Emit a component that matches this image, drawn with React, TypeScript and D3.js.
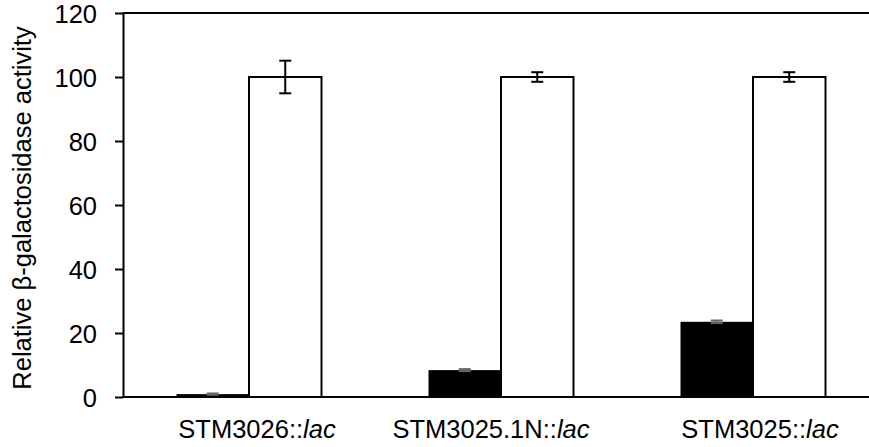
import * as d3 from "d3";
import React, { useRef, useEffect } from "react";

const strains = ["STM3026::", "STM3025.1N::", "STM3025::"];
const series = ["black", "white"];
const blackValues = [0.9, 8.4, 23.5];
const blackErrors = [0.2, 0.3, 0.4];
const whiteValues = [100, 100, 100];
const whiteErrors = [5.1, 1.5, 1.5];
const yTicks = [0, 20, 40, 60, 80, 100, 120];

// small hand nudges of the category labels, as in the original figure
const labelShift = [8, -10, 7];

function App() {
  const ref = useRef<SVGSVGElement>(null);

  useEffect(() => {
    const svg = d3.select(ref.current);
    svg.selectAll("*").remove();

    const left = 123;
    const right = 879;
    const top = 13;
    const bottom = 397;
    const font = "'Liberation Sans', Arial, sans-serif";
    const fs = 25.5;

    const x = d3.scaleBand().domain(strains).range([left, right]);
    const sub = d3.scaleBand()
      .domain(series)
      .range([0, x.bandwidth()])
      .paddingInner(0)
      .paddingOuter(0.738);
    const y = d3.scaleLinear().domain([0, 120]).range([bottom, top]);

    const rows = strains.flatMap((s, i) => [
      { strain: s, key: "black", value: blackValues[i], err: blackErrors[i] },
      { strain: s, key: "white", value: whiteValues[i], err: whiteErrors[i] },
    ]);

    // bars
    svg.append("g")
      .selectAll("rect")
      .data(rows)
      .enter()
      .append("rect")
      .attr("x", d => (x(d.strain) as number) + (sub(d.key) as number))
      .attr("y", d => y(d.value))
      .attr("width", sub.bandwidth())
      .attr("height", d => y(0) - y(d.value))
      .attr("fill", d => (d.key === "black" ? "#000" : "#fff"))
      .attr("stroke", "#000")
      .attr("stroke-width", d => (d.key === "black" ? 0 : 2));

    // error bars
    const eb = svg.append("g").attr("stroke-width", 2);
    rows.forEach(d => {
      const cx = (x(d.strain) as number) + (sub(d.key) as number) + sub.bandwidth() / 2;
      const y1 = y(d.value + d.err);
      const y2 = y(d.value - d.err);
      const stroke = d.key === "black" ? "#666" : "#000";
      eb.append("line").attr("x1", cx).attr("x2", cx).attr("y1", y1).attr("y2", y2).attr("stroke", stroke);
      eb.append("line").attr("x1", cx - 6).attr("x2", cx + 6).attr("y1", y1).attr("y2", y1).attr("stroke", stroke);
      eb.append("line").attr("x1", cx - 6).attr("x2", cx + 6).attr("y1", y2).attr("y2", y2).attr("stroke", stroke);
    });

    // plot border (top/right)
    svg.append("path")
      .attr("d", `M${left},${top}H${right}V${bottom}`)
      .attr("fill", "none")
      .attr("stroke", "#000")
      .attr("stroke-width", 2);

    // x axis line
    svg.append("line")
      .attr("x1", left).attr("x2", right)
      .attr("y1", bottom).attr("y2", bottom)
      .attr("stroke", "#000").attr("stroke-width", 2);

    // y axis
    const yAxis = d3.axisLeft(y).tickValues(yTicks).tickSizeInner(8).tickSizeOuter(0).tickPadding(18);
    const ga = svg.append("g").attr("transform", `translate(${left},0)`).call(yAxis);
    ga.select(".domain").attr("stroke", "#000").attr("stroke-width", 2);
    ga.selectAll(".tick line").attr("stroke", "#000").attr("stroke-width", 2);
    ga.selectAll(".tick text")
      .attr("font-family", font)
      .attr("font-size", fs)
      .attr("fill", "#000")
      .attr("dy", "0.36em");

    // x labels
    const xl = svg.append("g")
      .selectAll("text")
      .data(strains)
      .enter()
      .append("text")
      .attr("x", (d, i) => (x(d) as number) + x.bandwidth() / 2 + labelShift[i])
      .attr("y", 438)
      .attr("text-anchor", "middle")
      .attr("font-family", font)
      .attr("font-size", fs)
      .attr("fill", "#000");
    xl.append("tspan").text(d => d);
    xl.append("tspan").attr("font-style", "italic").text("lac");

    // y title
    svg.append("text")
      .attr("transform", `translate(31,208) rotate(-90)`)
      .attr("text-anchor", "middle")
      .attr("font-family", font)
      .attr("font-size", fs)
      .attr("fill", "#000")
      .text("Relative β-galactosidase activity");
  }, []);

  return (
    <svg
      ref={ref}
      width={869}
      height={447}
      style={{ position: "absolute", left: 0, top: 0, background: "#fff" }}
    />
  );
}

export default App;
